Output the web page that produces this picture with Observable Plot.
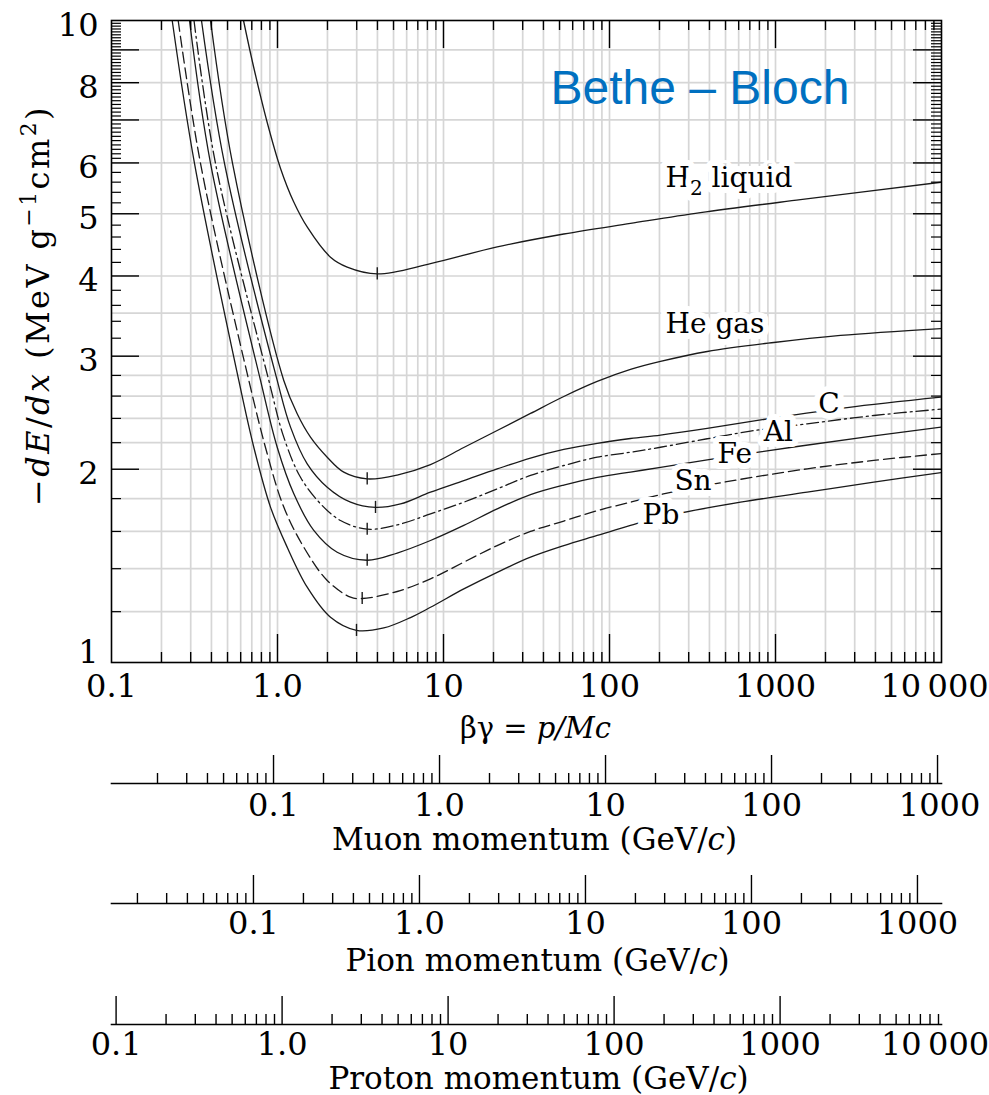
<!DOCTYPE html>
<html><head><meta charset="utf-8">
<script src="https://cdn.jsdelivr.net/npm/d3@7"></script>
<script src="https://cdn.jsdelivr.net/npm/@observablehq/plot@0.6"></script>
<style>
body { margin:0; background:#fff; }
#chart { width:989px; }
#chart svg { display:block; }
</style></head><body><div id="chart"></div>
<script>
// ---- data: [βγ, -dE/dx (MeV g^-1 cm^2)] ----
const H2_liquid = [[0.624,10],[0.717,8.479],[0.867,6.936],[1.043,5.883],[1.249,5.225],[1.516,4.76],[2.086,4.279],[2.63,4.13],[3.99,4.03],[8.35,4.18],[21.06,4.44],[53.05,4.65],[133.8,4.83],[353,5.02],[1414,5.26],[10000,5.60]];
const He_gas = [[0.395,10],[0.536,5.99],[1.091,2.75],[1.314,2.44],[1.58,2.244],[1.993,2.088],[2.507,1.979],[3.47,1.932],[5.261,1.959],[8.35,2.034],[13.25,2.162],[21.06,2.298],[33.43,2.443],[53.05,2.596],[84.3,2.74],[133.8,2.861],[202.9,2.944],[387.8,3.051],[976.8,3.151],[2464,3.232],[10000,3.313]];
const C_graphite = [[0.3484,10],[0.4794,5.99],[0.996,2.75],[1.198,2.326],[1.51,2.039],[1.993,1.875],[2.754,1.777],[3.894,1.744],[5.508,1.766],[8.35,1.842],[13.25,1.92],[21.06,2.002],[33.43,2.082],[53.05,2.147],[84.3,2.195],[133.8,2.233],[202.9,2.261],[387.8,2.315],[976.8,2.404],[2703,2.495],[10000,2.59]];
const Al_metal = [[0.3141,10],[0.4231,5.99],[0.8864,2.75],[1.091,2.244],[1.376,1.943],[1.816,1.767],[2.396,1.664],[3.47,1.613],[5.261,1.638],[8.35,1.704],[13.25,1.777],[21.06,1.864],[33.43,1.956],[53.05,2.027],[84.3,2.088],[133.8,2.126],[202.9,2.164],[387.8,2.231],[707,2.293],[1552,2.354],[3910,2.425],[10000,2.482]];
const Fe_metal = [[0.2951,10],[0.395,5.99],[0.79,2.75],[0.996,2.164],[1.254,1.831],[1.654,1.606],[2.288,1.485],[3.47,1.443],[5.261,1.481],[8.35,1.549],[13.25,1.635],[21.06,1.735],[33.43,1.826],[53.05,1.89],[84.3,1.942],[133.8,1.98],[202.9,2.013],[387.8,2.068],[1351,2.17],[3910,2.254],[10000,2.327]];
const Sn_metal = [[0.2522,10],[0.3437,5.99],[0.6718,2.75],[0.867,2.114],[1.091,1.746],[1.44,1.512],[1.993,1.342],[2.754,1.264],[3.237,1.258],[5.261,1.29],[8.35,1.35],[13.25,1.433],[21.06,1.521],[33.43,1.6],[53.05,1.661],[84.3,1.724],[133.8,1.777],[202.9,1.826],[488.2,1.909],[1552,2.003],[3910,2.064],[10000,2.116]];
const Pb_metal = [[0.2321,10],[0.3162,5.99],[0.5845,2.75],[0.7198,2.164],[0.9073,1.746],[1.144,1.512],[1.51,1.31],[2.086,1.176],[2.992,1.122],[4.369,1.132],[6.327,1.175],[8.35,1.219],[13.25,1.302],[21.06,1.382],[33.43,1.459],[53.05,1.521],[84.3,1.577],[133.8,1.635],[202.9,1.684],[615.5,1.777],[1552,1.842],[3910,1.909],[10000,1.977]];

// minimum-ionization markers
const minima = [
  {bg: 3.99, v: 4.03}, {bg: 3.47, v: 1.932}, {bg: 3.894, v: 1.744}, {bg: 3.47, v: 1.613},
  {bg: 3.47, v: 1.443}, {bg: 3.237, v: 1.258}, {bg: 2.992, v: 1.122}
];
// curve labels
const labelsLeft = [{name: "H2 liquid", bg: 217.5, v: 5.675}, {name: "He gas", bg: 217.5, v: 3.361}];
const labelsMid = [{name: "C", bg: 2101, v: 2.523}, {name: "Al", bg: 1042, v: 2.284}, {name: "Fe", bg: 568.6, v: 2.114}, {name: "Sn", bg: 318.5, v: 1.914}, {name: "Pb", bg: 204.2, v: 1.70}];

// axes
const xTickValues = [0.1, 1, 10, 100, 1000, 10000];
const xTickLabels = ["0.1", "1.0", "10", "100", "1000", "10\u2009000"];
const yTickValues = [1, 2, 3, 4, 5, 6, 8, 10];
const yTickLabels = ["1", "2", "3", "4", "5", "6", "8", "10"];
const yGrid = [1.2, 1.4, 1.6, 1.8, 2, 2.2, 2.4, 2.6, 2.8, 3, 3.5, 4, 5, 6, 7, 8, 9];
const momLabelValues = [0.1, 1, 10, 100, 1000];
const momLabels = ["0.1", "1.0", "10", "100", "1000"];
const protonLabelValues = [0.1, 1, 10, 100, 1000, 10000];
const protonLabels = ["0.1", "1.0", "10", "100", "1000", "10\u2009000"];
const massMuon = 0.10566, massPion = 0.13957, massProton = 0.93827; // GeV/c^2

const chartTitle = "Bethe \u2013 Bloch";
const xTitle = "\u03b2\u03b3 = p/Mc";
const yTitle = "\u2212dE/dx (MeV g\u22121cm2)";

// ---- layout ----
const W = 989, ML = 111, MR = 48, MT = 20, mainH = 745, MB = 83;
const frameH = mainH - MT - MB, frameW = W - ML - MR;
const serif = "DejaVu Serif";
const ink = "#1a1a1a";
const TICKFS = 32, TITLEFS = 31;

const xMajor = [1, 10, 100, 1000];
const xMinor = [];
for (let e = -1; e <= 3; e++) for (let k = 2; k <= 9; k++) xMinor.push(+(k * 10 ** e).toPrecision(6));
const xGrid = [...xMinor, ...xMajor];
const yMajor = [2, 3, 4, 5, 6, 7, 8, 9];
const yMinor = [];
for (let k = 12; k < 60; k += 2) if (k % 10) yMinor.push(k / 10);
for (let k = 61; k < 100; k++) if (k % 10) yMinor.push(k / 10);

const curves = [
  {data: H2_liquid, dash: null}, {data: He_gas, dash: null}, {data: C_graphite, dash: null},
  {data: Al_metal, dash: "12,4,2,4"}, {data: Fe_metal, dash: null}, {data: Sn_metal, dash: "11,5"},
  {data: Pb_metal, dash: null}
];

function rich(svg, content, parts, extra) {
  d3.select(svg).selectAll("text").filter(function() { return this.textContent === content; }).each(function() {
    const t = d3.select(this);
    t.text(null);
    if (extra) for (const k in extra) t.attr(k, extra[k]);
    for (const p of parts) {
      const s = t.append("tspan").text(p.t);
      if (p.i) s.attr("font-style", "italic");
      if (p.dy) s.attr("dy", p.dy);
      if (p.fs) s.attr("font-size", p.fs);
    }
  });
}
const fmtX = d => xTickLabels[xTickValues.indexOf(d)];
const fmtY = d => yTickLabels[yTickValues.indexOf(d)];

const main = Plot.plot({
  width: W, height: mainH, marginLeft: ML, marginRight: MR, marginTop: MT, marginBottom: MB,
  style: {fontFamily: serif, fontSize: "28px", color: "#000", background: "#fff", overflow: "visible"},
  x: {type: "log", domain: [0.1, 10000]},
  y: {type: "log", domain: [1, 10]},
  marks: [
    Plot.ruleX(xGrid, {stroke: "#d6d6d6", strokeWidth: 1.7}),
    Plot.ruleY(yGrid, {stroke: "#d6d6d6", strokeWidth: 1.7}),
    ...curves.map(c => Plot.line(c.data, {x: d => d[0], y: d => d[1], stroke: ink, strokeWidth: 1.3,
      strokeDasharray: c.dash || undefined, curve: "catmull-rom", clip: true})),
    Plot.ruleX(minima, {x: "bg", y1: d => d.v / 1.022, y2: d => d.v * 1.022, stroke: ink, strokeWidth: 1.4}),
    Plot.text(labelsLeft, {x: "bg", y: "v", text: "name", textAnchor: "start", fill: "#000", stroke: "#fff", strokeWidth: 12, paintOrder: "stroke", fontSize: 28}),
    Plot.text(labelsMid, {x: "bg", y: "v", text: "name", textAnchor: "middle", fill: "#000", stroke: "#fff", strokeWidth: 12, paintOrder: "stroke", fontSize: 28}),
    Plot.ruleX(xMajor, {insetTop: frameH - 28, stroke: "#000", strokeWidth: 1.4}),
    Plot.ruleX(xMajor, {insetBottom: frameH - 28, stroke: "#000", strokeWidth: 1.4}),
    Plot.ruleX(xMinor, {insetTop: frameH - 10, stroke: "#000", strokeWidth: 1.4}),
    Plot.ruleX(xMinor, {insetBottom: frameH - 10, stroke: "#000", strokeWidth: 1.4}),
    Plot.ruleY(yMajor, {insetRight: frameW - 28, stroke: "#000", strokeWidth: 1.4}),
    Plot.ruleY(yMajor, {insetLeft: frameW - 28, stroke: "#000", strokeWidth: 1.4}),
    Plot.ruleY(yMinor, {insetRight: frameW - 10, stroke: "#000", strokeWidth: 1.2}),
    Plot.ruleY(yMinor, {insetLeft: frameW - 10, stroke: "#000", strokeWidth: 1.2}),
    Plot.frame({stroke: "#000", strokeWidth: 1.6}),
    Plot.axisX({ticks: xTickValues.slice(0, -1), tickSize: 0, tickPadding: 12, label: null, fontSize: TICKFS, tickFormat: fmtX}),
    Plot.axisX({ticks: xTickValues.slice(-1), tickSize: 0, tickPadding: 12, label: null, fontSize: TICKFS, tickFormat: fmtX, dx: -7}),
    Plot.axisY({ticks: yTickValues.slice(1), tickSize: 0, tickPadding: 13, label: null, fontSize: TICKFS, dy: 5, tickFormat: fmtY}),
    Plot.axisY({ticks: yTickValues.slice(0, 1), tickSize: 0, tickPadding: 13, label: null, fontSize: TICKFS, dy: -10, tickFormat: fmtY}),
    Plot.text([yTitle], {frameAnchor: "left", textAnchor: "middle", rotate: -90, dx: 38 - ML, dy: -36, fontSize: 32}),
    Plot.text([xTitle], {frameAnchor: "bottom", textAnchor: "middle", lineAnchor: "bottom", dx: 9, dy: 75, fontSize: 29}),
    Plot.text([chartTitle], {frameAnchor: "top-left", textAnchor: "start", lineAnchor: "bottom", dx: 439, dy: 83,
      fontFamily: "Liberation Sans", fontSize: 48, fill: "#0070C0"})
  ]
});
rich(main, xTitle, [{t: "\u03b2\u03b3 = "}, {t: "p/Mc", i: true}]);
rich(main, yTitle, [{t: "\u2212"}, {t: "dE", i: true}, {t: "/"}, {t: "dx", i: true}, {t: " (MeV g"},
  {t: "\u22121", fs: 22, dy: -13}, {t: "cm", fs: 32, dy: 13}, {t: "2", fs: 22, dy: -13}, {t: ")", fs: 32, dy: 13}],
  {"letter-spacing": "2.4px"});
rich(main, "H2 liquid", [{t: "H"}, {t: "2", fs: 20, dy: 8}, {t: " liquid", fs: 28, dy: -8}]);
document.getElementById("chart").append(main);

function logTicks(lo, hi) {
  const major = [], minor = [];
  for (let e = -3; e <= 4; e++) for (let k = 1; k <= 9; k++) {
    const v = +(k * 10 ** e).toPrecision(6);
    if (v < lo || v > hi) continue;
    (k === 1 ? major : minor).push(v);
  }
  return {major, minor};
}

function momentumAxis({mass, values, texts, title, height, lineY, labelDy, titleDy, titleDx, lastDx}) {
  const lo = 0.1 * mass, hi = 1e4 * mass;
  const {major, minor} = logTicks(lo, hi);
  const idx = values.map((d, i) => i);
  const svg = Plot.plot({
    width: W, height, marginLeft: ML, marginRight: MR, marginTop: lineY - 28, marginBottom: height - lineY,
    style: {fontFamily: serif, fontSize: "28px", color: "#000", background: "#fff", overflow: "visible"},
    x: {type: "log", domain: [lo, hi], axis: null},
    marks: [
      Plot.ruleX(major, {stroke: "#000", strokeWidth: 1.4}),
      Plot.ruleX(minor, {insetTop: 18, stroke: "#000", strokeWidth: 1.4}),
      Plot.frame({anchor: "bottom", stroke: "#000", strokeWidth: 1.6}),
      Plot.text(idx.slice(0, -1), {x: i => values[i], text: i => texts[i], frameAnchor: "bottom", lineAnchor: "top", dy: labelDy, fontSize: TICKFS}),
      Plot.text(idx.slice(-1), {x: i => values[i], text: i => texts[i], frameAnchor: "bottom", lineAnchor: "top", dy: labelDy, dx: lastDx, fontSize: TICKFS}),
      Plot.text([title], {frameAnchor: "bottom", textAnchor: "middle", lineAnchor: "bottom", dy: titleDy, dx: titleDx, fontSize: TITLEFS})
    ]
  });
  const name = title.replace("(GeV/c)", "(GeV/");
  rich(svg, title, [{t: name}, {t: "c", i: true}, {t: ")"}]);
  document.getElementById("chart").append(svg);
}

momentumAxis({mass: massMuon, values: momLabelValues, texts: momLabels, title: "Muon momentum (GeV/c)",
  height: 120, lineY: 38, labelDy: 10, titleDy: 66, titleDx: 8, lastDx: 2});
momentumAxis({mass: massPion, values: momLabelValues, texts: momLabels, title: "Pion momentum (GeV/c)",
  height: 120, lineY: 38, labelDy: 8, titleDy: 67, titleDx: 11, lastDx: 0});
momentumAxis({mass: massProton, values: protonLabelValues, texts: protonLabels, title: "Proton momentum (GeV/c)",
  height: 110, lineY: 39, labelDy: 8, titleDy: 64, titleDx: 12, lastDx: -11});
</script></body></html>
